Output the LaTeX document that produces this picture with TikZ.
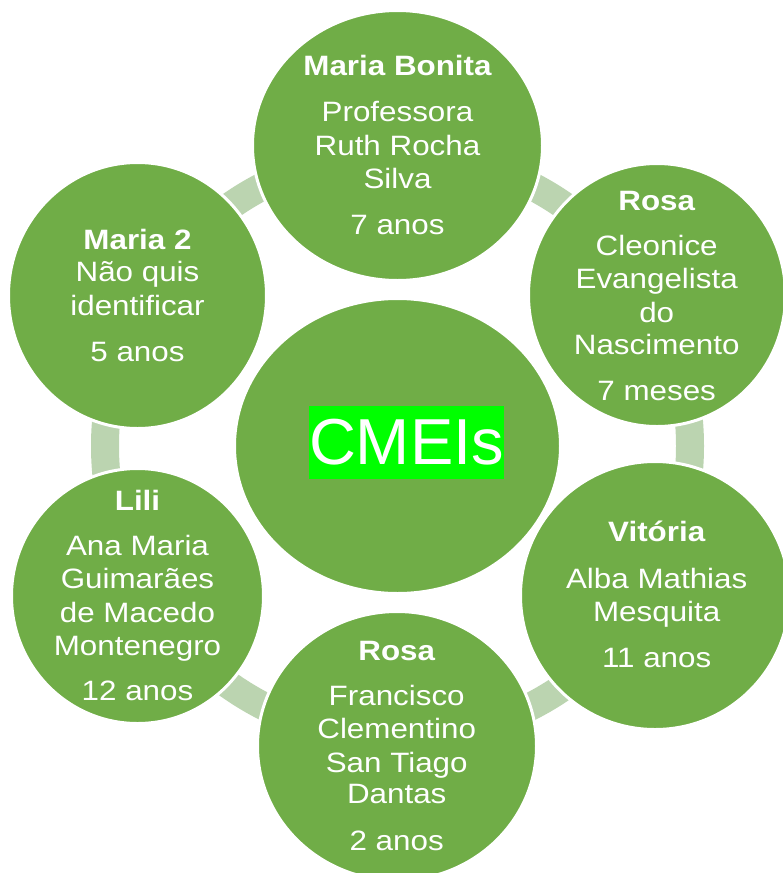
\documentclass[tikz,border=0pt]{standalone}
\usepackage{fontspec}
\setmainfont{Liberation Sans}[FakeStretch=1.12]
\newfontfamily\cmeifont{Liberation Sans}
\usetikzlibrary{shapes.geometric}
\definecolor{bubble}{RGB}{112,173,71}
\definecolor{ringc}{RGB}{187,212,176}
\definecolor{hilite}{RGB}{0,255,0}
\tikzset{
  bub/.style={ellipse, fill=bubble, draw=white, line width=3pt, inner sep=0pt},
  txt/.style={text=white, inner sep=0pt, anchor=base, font=\fontsize{28}{33.6}\selectfont},
  hd/.style={txt, font=\fontsize{28}{33.6}\selectfont\bfseries},
}
\begin{document}
\begin{tikzpicture}[x=1pt,y=-1pt]
\path[use as bounding box] (0,0) rectangle (783,873);
\clip (0,0) rectangle (783,873);
\coordinate (mid) at (397.5,446);
\draw[ringc, line width=28pt] (mid) circle (292.5);
% bubbles
\node[bub, minimum width=290pt, minimum height=270pt] (T)  at (397.5,145.5) {};
\node[bub, minimum width=257pt, minimum height=263pt] (UR) at (657,295) {};
\node[bub, minimum width=269pt, minimum height=268pt] (LR) at (655,595.5) {};
\node[bub, minimum width=279pt, minimum height=269pt] (B)  at (397,746) {};
\node[bub, minimum width=252pt, minimum height=255pt] (LL) at (137.5,596) {};
\node[bub, minimum width=258pt, minimum height=266pt] (UL) at (137.5,295.5) {};
\node[bub, minimum width=326pt, minimum height=295pt] (C)  at (mid) {};
% centre label
\node[fill=hilite, text=white, inner xsep=0pt, inner ysep=0pt, anchor=base,
      text height=58.5pt, text depth=15pt, minimum width=193pt,
      font=\cmeifont\fontsize{65}{70}\selectfont] (cmei) at (406.5,464) {CMEIs};
% top
\node[hd] (T0) at (397.5,75) {Maria Bonita};
\foreach \y/\t [count=\i] in {121.7/Professora, 155.7/Ruth Rocha, 188.3/Silva, 234.3/7 anos}
  \node[txt] (T\i) at (397.5,\y) {\t};
% upper left
\node[hd] (UL0) at (137.5,249.3) {Maria 2};
\foreach \y/\t [count=\i] in {281.7/Não quis, 315/identificar, 361.7/5 anos}
  \node[txt] (UL\i) at (137.5,\y) {\t};
% upper right
\node[hd] (UR0) at (656.7,210) {Rosa};
\foreach \y/\t [count=\i] in {255/Cleonice, 288.3/Evangelista, 322.3/do, 354.3/Nascimento, 400/7 meses}
  \node[txt] (UR\i) at (656.7,\y) {\t};
% lower right
\node[hd] (LR0) at (656.7,541.7) {Vitória};
\foreach \y/\t [count=\i] in {588.3/Alba Mathias, 621.7/Mesquita, 667.3/11 anos}
  \node[txt] (LR\i) at (656.7,\y) {\t};
% bottom
\node[hd] (B0) at (396.7,660) {Rosa};
\foreach \y/\t [count=\i] in {705/Francisco, 738.3/Clementino, 772.7/San Tiago, 803.3/Dantas, 850/2 anos}
  \node[txt] (B\i) at (396.7,\y) {\t};
% lower left
\node[hd] (LL0) at (137.5,510) {Lili};
\foreach \y/\t [count=\i] in {555/Ana Maria, 588.3/Guimarães, 622.7/de Macedo, 655/Montenegro, 700/12 anos}
  \node[txt] (LL\i) at (137.5,\y) {\t};
\end{tikzpicture}
\end{document}
